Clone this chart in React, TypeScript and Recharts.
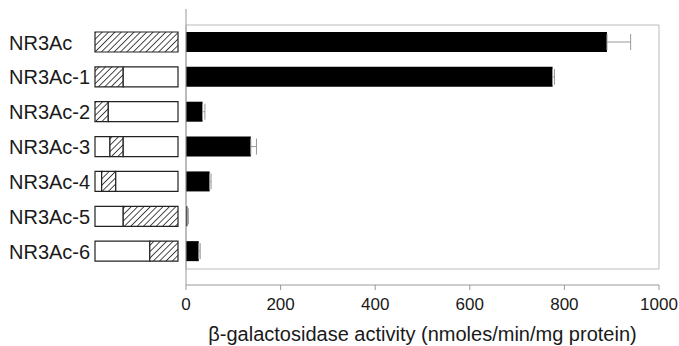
import { BarChart, Bar, XAxis, YAxis, ErrorBar, ReferenceArea } from "recharts";

const constructs = ["NR3Ac", "NR3Ac-1", "NR3Ac-2", "NR3Ac-3", "NR3Ac-4", "NR3Ac-5", "NR3Ac-6"];
// hatched region inside the construct box, in % of box length
const hatchStart = [0, 0, 0, 18, 8, 34, 66];
const hatchEnd = [100, 34, 16, 34, 25, 100, 100];
const activity = [890, 775, 35, 137, 50, 3, 27];
const activityErr = [50, 4, 5, 12, 3, 2, 3];
const xTicks = [0, 200, 400, 600, 800, 1000];

const FONT = "'Liberation Sans', Arial, Helvetica, sans-serif";
const PAD = { top: 16, bottom: 16 };
const MARGIN_TOP = 9;
const MARGIN_BOTTOM = 61;

const diagramData = constructs.map((name, i) => ({
  name,
  lead: hatchStart[i],
  hatch: hatchEnd[i] - hatchStart[i],
  tail: 100 - hatchEnd[i],
}));

const activityData = constructs.map((name, i) => ({
  name,
  value: activity[i],
  err: [0, activityErr[i]],
}));

function LabelTick({ y, payload }: any) {
  return (
    <text x={9} y={y} dy="0.36em" textAnchor="start" fontSize={20} fontFamily={FONT} fill="#1a1a1a">
      {payload.value}
    </text>
  );
}

export default function App() {
  return (
    <div style={{ position: "absolute", left: 0, top: 0, width: 679, height: 346, background: "#fff", display: "flex" }}>
      <BarChart
        width={180}
        height={346}
        layout="vertical"
        data={diagramData}
        margin={{ top: MARGIN_TOP, right: 2, bottom: MARGIN_BOTTOM, left: 8 }}
        barSize={20}
      >
        <defs>
          <pattern id="hatch" patternUnits="userSpaceOnUse" width={4.5} height={4.5} patternTransform="rotate(45)">
            <rect width={4.5} height={4.5} fill="#fff" />
            <line x1={0} y1={0} x2={0} y2={4.5} stroke="#111" strokeWidth={1.5} />
          </pattern>
        </defs>
        <XAxis type="number" domain={[0, 100]} hide />
        <YAxis
          type="category"
          dataKey="name"
          width={87}
          padding={PAD}
          axisLine={false}
          tickLine={false}
          tick={<LabelTick />}
        />
        <Bar dataKey="lead" stackId="a" fill="#fff" stroke="#222" strokeWidth={1.2} isAnimationActive={false} />
        <Bar dataKey="hatch" stackId="a" fill="url(#hatch)" stroke="#222" strokeWidth={1.2} isAnimationActive={false} />
        <Bar dataKey="tail" stackId="a" fill="#fff" stroke="#222" strokeWidth={1.2} isAnimationActive={false} />
      </BarChart>
      <BarChart
        width={499}
        height={346}
        layout="vertical"
        data={activityData}
        margin={{ top: MARGIN_TOP, right: 20, bottom: 0, left: 0 }}
        barSize={20}
      >
        <XAxis
          type="number"
          domain={[0, 1000]}
          ticks={xTicks}
          height={MARGIN_BOTTOM}
          stroke="#999"
          tickSize={5}
          tickMargin={8}
          tick={{ fill: "#1a1a1a", fontSize: 17, fontFamily: FONT }}
          label={{
            value: "β-galactosidase activity (nmoles/min/mg protein)",
            position: "insideBottom",
            offset: 5,
            fill: "#1a1a1a",
            fontSize: 20,
            fontFamily: FONT,
          }}
        />
        <YAxis
          type="category"
          dataKey="name"
          width={6}
          padding={PAD}
          stroke="#999"
          tickSize={4}
          tick={false}
        />
        <ReferenceArea x1={0} x2={1000} fill="none" stroke="#bbb" strokeWidth={1} />
        <Bar dataKey="value" fill="#000" isAnimationActive={false}>
          <ErrorBar dataKey="err" direction="x" width={8} stroke="#999" strokeWidth={1} isAnimationActive={false} />
        </Bar>
      </BarChart>
    </div>
  );
}
